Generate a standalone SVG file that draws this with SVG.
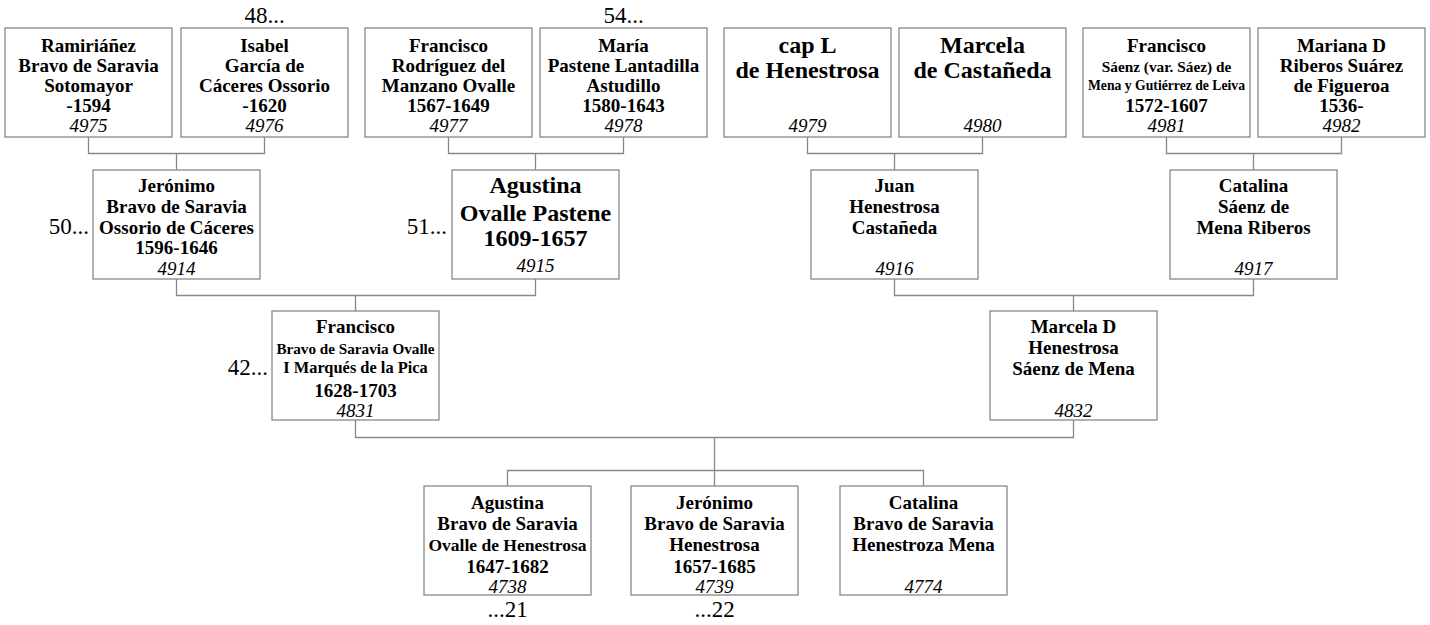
<svg xmlns="http://www.w3.org/2000/svg" width="1430" height="625" viewBox="0 0 1430 625">
<style>
.box{fill:#fff;stroke:#888;stroke-width:1.3}
.ln{fill:none;stroke:#888;stroke-width:1.3}
text{font-family:'Liberation Serif',Tinos,'Times New Roman','Nimbus Roman','DejaVu Serif',serif;fill:#000;text-anchor:middle}
.n{font-weight:bold;font-size:19px}
.L{font-weight:bold;font-size:24px}
.id{font-style:italic;font-size:19px}
.ext{font-size:23px}
</style>
<rect width="1430" height="625" fill="#fff"/>
<g id="connectors">
<path class="ln" d="M88.5 137V153.5H264.5V137M176.5 153.5V170"/>
<path class="ln" d="M448.5 137V153.5H623.5V137M535.5 153.5V170"/>
<path class="ln" d="M807.5 137V153.5H982.5V137M894.5 153.5V170"/>
<path class="ln" d="M1166.5 137V153.5H1341.5V137M1253.5 153.5V170"/>
<path class="ln" d="M176.5 279V295.5H535.5V279M355.5 295.5V311"/>
<path class="ln" d="M894.5 279V295.5H1253.5V279M1073.5 295.5V311"/>
<path class="ln" d="M355.5 420V437.5H1073.5V420M714.5 437.5V470.5"/>
<path class="ln" d="M507.5 486V470.5H923.5V486M714.5 470.5V486"/>
</g>
<g id="labels">
<text class="ext" x="264.5" y="23">48...</text>
<text class="ext" x="623.5" y="23">54...</text>
<text class="ext" x="89" y="234" style="text-anchor:end">50...</text>
<text class="ext" x="447" y="234" style="text-anchor:end">51...</text>
<text class="ext" x="268" y="375" style="text-anchor:end">42...</text>
<text class="ext" x="507.5" y="617">...21</text>
<text class="ext" x="714.5" y="617">...22</text>
</g>
<g id="n4975">
<rect class="box" x="5" y="28" width="167" height="109"/>
<text class="n" x="88.5" y="51.5">Ramiriáñez</text>
<text class="n" x="88.5" y="71.5">Bravo de Saravia</text>
<text class="n" x="88.5" y="91.5">Sotomayor</text>
<text class="n" x="88.5" y="111.5">-1594</text>
<text class="id" x="88.5" y="131.5">4975</text>
</g>
<g id="n4976">
<rect class="box" x="181" y="28" width="167" height="109"/>
<text class="n" x="264.5" y="51.5">Isabel</text>
<text class="n" x="264.5" y="71.5">García de</text>
<text class="n" x="264.5" y="91.5">Cáceres Ossorio</text>
<text class="n" x="264.5" y="111.5">-1620</text>
<text class="id" x="264.5" y="131.5">4976</text>
</g>
<g id="n4977">
<rect class="box" x="365" y="28" width="167" height="109"/>
<text class="n" x="448.5" y="51.5">Francisco</text>
<text class="n" x="448.5" y="71.5">Rodríguez del</text>
<text class="n" x="448.5" y="91.5">Manzano Ovalle</text>
<text class="n" x="448.5" y="111.5">1567-1649</text>
<text class="id" x="448.5" y="131.5">4977</text>
</g>
<g id="n4978">
<rect class="box" x="540" y="28" width="167" height="109"/>
<text class="n" x="623.5" y="51.5">María</text>
<text class="n" x="623.5" y="71.5">Pastene Lantadilla</text>
<text class="n" x="623.5" y="91.5">Astudillo</text>
<text class="n" x="623.5" y="111.5">1580-1643</text>
<text class="id" x="623.5" y="131.5">4978</text>
</g>
<g id="n4979">
<rect class="box" x="724" y="28" width="167" height="109"/>
<text class="L" x="807.5" y="53">cap L</text>
<text class="L" x="807.5" y="78">de Henestrosa</text>
<text class="id" x="807.5" y="131.5">4979</text>
</g>
<g id="n4980">
<rect class="box" x="899" y="28" width="167" height="109"/>
<text class="L" x="982.5" y="53">Marcela</text>
<text class="L" x="982.5" y="78">de Castañeda</text>
<text class="id" x="982.5" y="131.5">4980</text>
</g>
<g id="n4981">
<rect class="box" x="1083" y="28" width="167" height="109"/>
<text class="n" x="1166.5" y="51.5">Francisco</text>
<text class="n" x="1166.5" y="71.5" style="font-size:15.3px">Sáenz (var. Sáez) de</text>
<text class="n" x="1166.5" y="90" style="font-size:13.7px">Mena y Gutiérrez de Leiva</text>
<text class="n" x="1166.5" y="111.5">1572-1607</text>
<text class="id" x="1166.5" y="131.5">4981</text>
</g>
<g id="n4982">
<rect class="box" x="1258" y="28" width="167" height="109"/>
<text class="n" x="1341.5" y="51.5">Mariana D</text>
<text class="n" x="1341.5" y="71.5">Riberos Suárez</text>
<text class="n" x="1341.5" y="91.5">de Figueroa</text>
<text class="n" x="1341.5" y="111.5">1536-</text>
<text class="id" x="1341.5" y="131.5">4982</text>
</g>
<g id="n4914">
<rect class="box" x="93" y="170" width="167" height="109"/>
<text class="n" x="176.5" y="192">Jerónimo</text>
<text class="n" x="176.5" y="213">Bravo de Saravia</text>
<text class="n" x="176.5" y="234">Ossorio de Cáceres</text>
<text class="n" x="176.5" y="254">1596-1646</text>
<text class="id" x="176.5" y="275">4914</text>
</g>
<g id="n4915">
<rect class="box" x="452" y="170" width="167" height="109"/>
<text class="L" x="535.5" y="193">Agustina</text>
<text class="L" x="535.5" y="221">Ovalle Pastene</text>
<text class="L" x="535.5" y="246">1609-1657</text>
<text class="id" x="535.5" y="272">4915</text>
</g>
<g id="n4916">
<rect class="box" x="811" y="170" width="167" height="109"/>
<text class="n" x="894.5" y="192">Juan</text>
<text class="n" x="894.5" y="213">Henestrosa</text>
<text class="n" x="894.5" y="234">Castañeda</text>
<text class="id" x="894.5" y="275">4916</text>
</g>
<g id="n4917">
<rect class="box" x="1170" y="170" width="167" height="109"/>
<text class="n" x="1253.5" y="192">Catalina</text>
<text class="n" x="1253.5" y="213">Sáenz de</text>
<text class="n" x="1253.5" y="234">Mena Riberos</text>
<text class="id" x="1253.5" y="275">4917</text>
</g>
<g id="n4831">
<rect class="box" x="272" y="311" width="167" height="109"/>
<text class="n" x="355.5" y="333">Francisco</text>
<text class="n" x="355.5" y="354" style="font-size:15.2px">Bravo de Saravia Ovalle</text>
<text class="n" x="355.5" y="373" style="font-size:16.4px">I Marqués de la Pica</text>
<text class="n" x="355.5" y="396.5">1628-1703</text>
<text class="id" x="355.5" y="417">4831</text>
</g>
<g id="n4832">
<rect class="box" x="990" y="311" width="167" height="109"/>
<text class="n" x="1073.5" y="333">Marcela D</text>
<text class="n" x="1073.5" y="354">Henestrosa</text>
<text class="n" x="1073.5" y="375">Sáenz de Mena</text>
<text class="id" x="1073.5" y="417">4832</text>
</g>
<g id="n4738">
<rect class="box" x="424" y="486" width="167" height="109"/>
<text class="n" x="507.5" y="508.5">Agustina</text>
<text class="n" x="507.5" y="530">Bravo de Saravia</text>
<text class="n" x="507.5" y="551" style="font-size:17.5px">Ovalle de Henestrosa</text>
<text class="n" x="507.5" y="572.5">1647-1682</text>
<text class="id" x="507.5" y="593">4738</text>
</g>
<g id="n4739">
<rect class="box" x="631" y="486" width="167" height="109"/>
<text class="n" x="714.5" y="508.5">Jerónimo</text>
<text class="n" x="714.5" y="530">Bravo de Saravia</text>
<text class="n" x="714.5" y="551">Henestrosa</text>
<text class="n" x="714.5" y="572.5">1657-1685</text>
<text class="id" x="714.5" y="593">4739</text>
</g>
<g id="n4774">
<rect class="box" x="840" y="486" width="167" height="109"/>
<text class="n" x="923.5" y="508.5">Catalina</text>
<text class="n" x="923.5" y="530">Bravo de Saravia</text>
<text class="n" x="923.5" y="551">Henestroza Mena</text>
<text class="id" x="923.5" y="593">4774</text>
</g>
</svg>
